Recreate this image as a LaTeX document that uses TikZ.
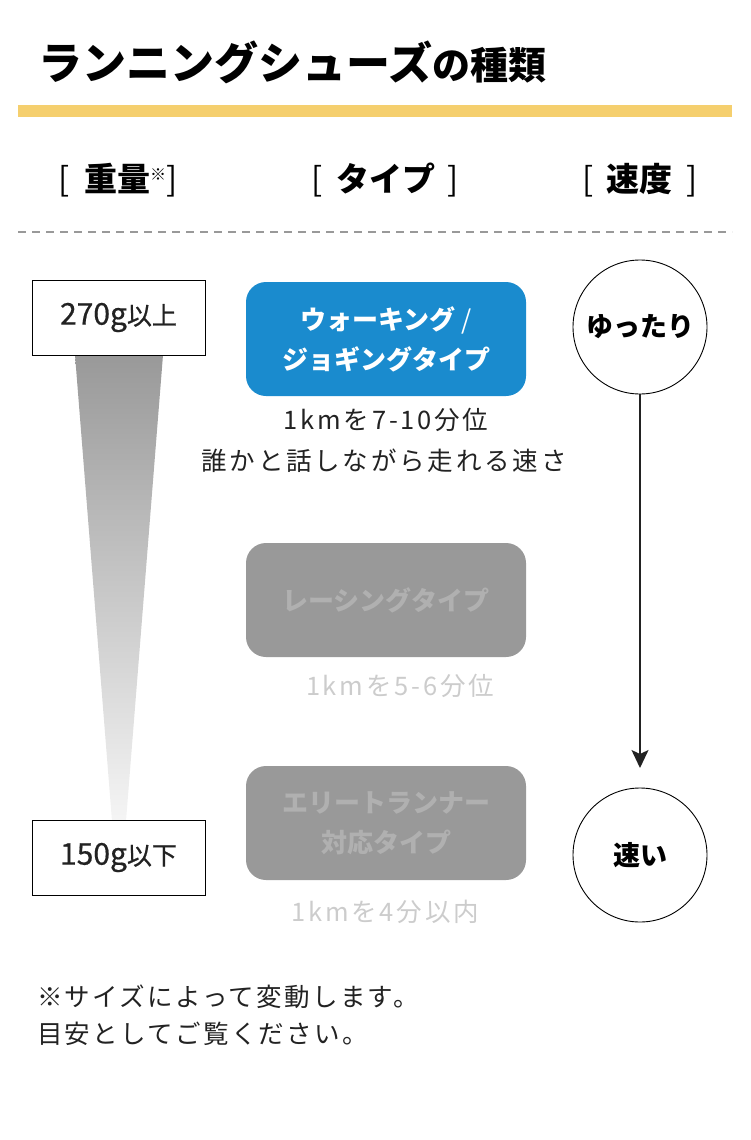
\documentclass[tikz,border=0pt]{standalone}
\usepackage{fontspec}
\setmainfont{Noto Sans CJK JP}
\usetikzlibrary{arrows.meta}
\definecolor{barY}{RGB}{245,207,110}
\definecolor{typeBlue}{RGB}{26,139,206}
\definecolor{boxGray}{RGB}{153,153,153}
\definecolor{boxText}{RGB}{176,176,176}
\definecolor{subGray}{RGB}{204,204,204}
\definecolor{ink}{RGB}{34,34,34}
\tikzset{
  weightbox/.style={draw=black, line width=1pt, fill=white, minimum width=173pt, minimum height=75pt, inner sep=0pt, font=\fontsize{30}{32}\selectfont\addfontfeatures{FakeBold=0.6}, text=ink},
  typebox/.style={rounded corners=20pt, minimum width=280pt, minimum height=114pt, inner sep=0pt, align=center, font=\fontsize{26}{40}\selectfont\bfseries},
  subtext/.style={inner sep=0pt, font=\fontsize{25.5}{30}\selectfont\addfontfeatures{LetterSpace=11}},
  speedcircle/.style={circle, draw=black, line width=0.9pt, minimum size=134pt, inner sep=0pt, font=\fontsize{27}{30}\selectfont\bfseries},
  header/.style={inner sep=0pt, font=\fontsize{33}{36}\selectfont},
  flowarrow/.style={draw=ink, line width=1.6pt, -{Stealth[width=17pt,length=18pt,inset=4pt]}},
  note/.style={inner sep=0pt, anchor=west, font=\fontsize{25.5}{30}\selectfont\addfontfeatures{LetterSpace=9}, text=ink}
}
\begin{document}
\begin{tikzpicture}[x=1pt,y=-1pt]
\useasboundingbox (0,0) rectangle (750,1140);
% title
\node[anchor=west, inner sep=0pt] (title) at (38,62) {\fontsize{44}{48}\selectfont\bfseries ランニングシューズ{\fontsize{38}{42}\selectfont の種類}};
\fill[barY] (18,105) rectangle (732,117);
% headers
\node[header] (hweight) at (118,180) {[\hspace{14pt}{\bfseries 重量}{\fontsize{16}{16}\selectfont\raisebox{11pt}{※}}]};
\node[header] (htype) at (385,180) {[\hspace{14pt}{\bfseries タイプ}\hspace{12pt}]};
\node[header] (hspeed) at (640,180) {[\hspace{13pt}{\bfseries 速度}\hspace{14pt}]};
\draw[boxGray, line width=1.5pt, dash pattern=on 8pt off 6pt] (18,232) -- (732,232);
% weight gradient
\shade[top color=boxGray, bottom color=white!96!black] (75,355) -- (163,355) -- (126,821) -- (112,821) -- cycle;
\node[weightbox] (heavy) at (118.5,317.5) {270g{\fontsize{25}{28}\selectfont 以上}};
\node[weightbox] (light) at (118.5,857.5) {150g{\fontsize{25}{28}\selectfont 以下}};
% types
\node[typebox, fill=typeBlue, text=white] (walk) at (386,339) {ウォーキング {\mdseries /}\\ジョギングタイプ};
\node[subtext, text=ink] (walk1) at (386,420) {1kmを7-10分位};
\node[subtext, text=ink] (walk2) at (384,461) {誰かと話しながら走れる速さ};
\node[subtext, text=subGray] (race1) at (400,686) {1kmを5-6分位};
\node[typebox, fill=boxGray, text=boxText] (race) at (386,600) {レーシングタイプ};
\node[typebox, fill=boxGray, text=boxText] (elite) at (386,823) {エリートランナー\\対応タイプ};
\node[subtext, text=subGray] (elite1) at (385,912) {1kmを4分以内};
% speed
\node[speedcircle] (slow) at (640,327) {ゆったり};
\node[speedcircle] (fast) at (640,855) {速い};
\coordinate (arrowend) at (640,768);
\draw[flowarrow] (slow.south) -- (arrowend);
% note
\node[note] (note1) at (37,997) {※サイズによって変動します。};
\node[note] (note2) at (37,1034) {目安としてご覧ください。};
\end{tikzpicture}
\end{document}
